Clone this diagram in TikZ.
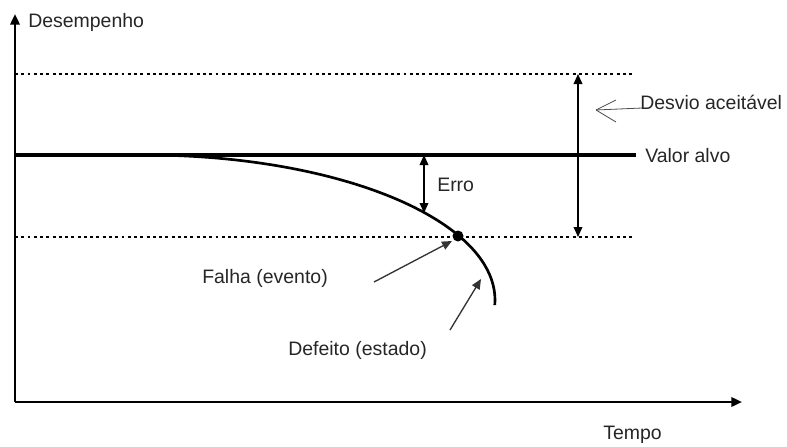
\documentclass[tikz,border=0pt]{standalone}
\usepackage{fontspec}
\setmainfont{Liberation Sans}
\usetikzlibrary{arrows.meta}
\begin{document}
\begin{tikzpicture}[x=0.75pt,y=-0.75pt,
  lbl/.style={inner sep=0pt, anchor=west, text=black!85, font=\fontsize{14.6}{16}\selectfont},
  axis/.style={line width=1.8pt, -{Triangle[length=8pt,width=7pt]}},
  dotline/.style={line width=2.2pt, dash pattern=on 2.2pt off 2.5pt},
  dbl/.style={line width=1pt, {Triangle[length=7.5pt,width=6.5pt]}-{Triangle[length=7.5pt,width=6.5pt]}},
  ptr/.style={line width=1pt, draw=black!80, -{Triangle[length=7.5pt,width=6.5pt]}},
  openptr/.style={line width=0.6pt, draw=black!70}
]
\useasboundingbox (0,0) rectangle (787,446);
% axes
\coordinate (O) at (15,402);
\coordinate (Ytop) at (15,14);
\coordinate (Xend) at (742,402);
\draw[axis] (O) -- (Ytop);
\draw[axis] (O) -- (Xend);
\node[lbl] (des) at (28,22) {Desempenho};
\node[lbl] (tempo) at (603,435) {Tempo};
% reference lines
\coordinate (tL) at (15,74);  \coordinate (tR) at (633,74);
\coordinate (bL) at (15,237); \coordinate (bR) at (633,237);
\coordinate (vL) at (15,155); \coordinate (vR) at (636,155);
\draw[dotline] (tL) -- (tR);
\draw[dotline] (bL) -- (bR);
\draw[line width=2.6pt] (vL) -- (vR);
\node[lbl] (valor) at (645,156) {Valor alvo};
% acceptable deviation
\coordinate (dT) at (578,74); \coordinate (dB) at (578,237);
\draw[dbl] (dT) -- (dB);
\node[lbl] (desvio) at (640,102) {Desvio aceitável};
\coordinate (dtip) at (596,110);
\draw[openptr] (desvio.west) ++(2,6) coordinate (dstart) -- (dtip);
\draw[openptr] (dtip) -- ++(20,-10) coordinate (b1);
\draw[openptr] (dtip) -- ++(20,12) coordinate (b2);
% curve: quarter ellipse
\coordinate (cs) at (145,155);
\draw[line width=2pt] (cs) arc[start angle=-90, end angle=2, x radius=350, y radius=145] coordinate (ce);
\fill (458,236) circle[radius=5.5] coordinate (dot);
% error
\coordinate (eT) at (424,155); \coordinate (eB) at (424,213);
\draw[dbl] (eT) -- (eB);
\node[lbl] (erro) at (437,185) {Erro};
% falha
\node[lbl] (falha) at (202,278) {Falha (evento)};
\coordinate (fs) at (374,282); \coordinate (ft) at (452,241);
\draw[ptr] (fs) -- (ft);
% defeito
\node[lbl] (defeito) at (288,350) {Defeito (estado)};
\coordinate (ds) at (450,330); \coordinate (dt2) at (481,279);
\draw[ptr] (ds) -- (dt2);
\end{tikzpicture}
\end{document}
